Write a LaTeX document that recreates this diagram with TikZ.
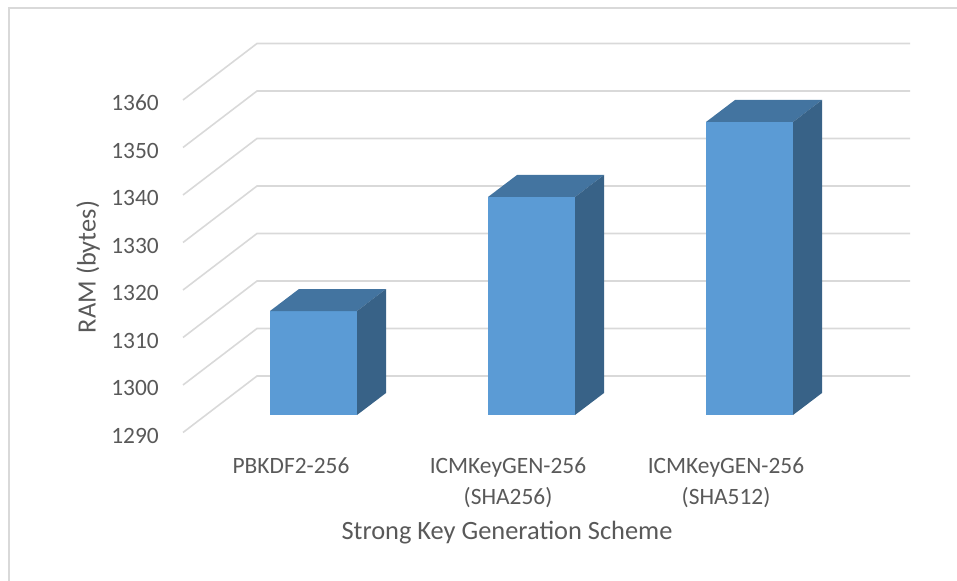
\documentclass[tikz,border=0pt]{standalone}
\usepackage{fontspec}
\setmainfont{Carlito}
\definecolor{txt}{HTML}{595959}
\definecolor{gridc}{HTML}{D9D9D9}
\definecolor{barfront}{HTML}{5B9BD5}
\definecolor{bartop}{HTML}{4374A0}
\definecolor{barside}{HTML}{386287}
\begin{document}
\begin{tikzpicture}[x=1bp,y=-1bp,
  gridline/.style={draw=gridc,line width=1.6bp},
  ticklbl/.style={anchor=east,inner sep=0pt,text=txt,font=\fontsize{23.5}{28}\selectfont},
  catlbl/.style={inner sep=0pt,text=txt,align=center,font=\fontsize{23.5}{31}\selectfont},
  axtitle/.style={inner sep=0pt,text=txt,font=\fontsize{26.5}{30}\selectfont},
  front/.style={fill=barfront},
  topface/.style={fill=bartop},
  sideface/.style={fill=barside}]
\useasboundingbox (0,0) rectangle (957,581);
% chart frame
\draw[gridline] (9,581) -- (9,8) -- (957,8);
% value gridlines running along the floor-wall corner and the back wall
\foreach \v [count=\i from 0] in {1360,1350,...,1290}{
  \pgfmathsetmacro\yf{100+47.5*\i}
  \pgfmathsetmacro\yb{43.5+47.5*\i}
  \draw[gridline] (183,\yf) -- (257,\yb) -- (910,\yb);
  \node[ticklbl] (tick\v) at (159,\yf+3) {\v};
}
% 3-D bars: left edge / top edge of the front face
\foreach \xl/\yt/\nm in {270/311/b1, 488/197/b2, 706/122/b3}{
  \fill[front] (\xl,\yt) rectangle (\xl+87,415);
  \fill[topface] (\xl,\yt) -- (\xl+29,\yt-22) -- (\xl+116,\yt-22) -- (\xl+87,\yt) -- cycle;
  \fill[sideface] (\xl+87,\yt) -- (\xl+116,\yt-22) -- (\xl+116,393) -- (\xl+87,415) -- cycle;
  \coordinate (\nm) at (\xl+43.5,415);
}
% category labels (two-line labels are anchored on their last baseline)
\node[catlbl,anchor=base] (c1) at (291,473) {PBKDF2-256};
\node[catlbl,anchor=base] (c2) at (508,504) {ICMKeyGEN-256\\(SHA256)};
\node[catlbl,anchor=base] (c3) at (726,504) {ICMKeyGEN-256\\(SHA512)};
% axis titles
\node[axtitle] (xtitle) at (507,533) {Strong Key Generation Scheme};
\node[axtitle,rotate=90] (ytitle) at (88,267) {RAM (bytes)};
\end{tikzpicture}
\end{document}
